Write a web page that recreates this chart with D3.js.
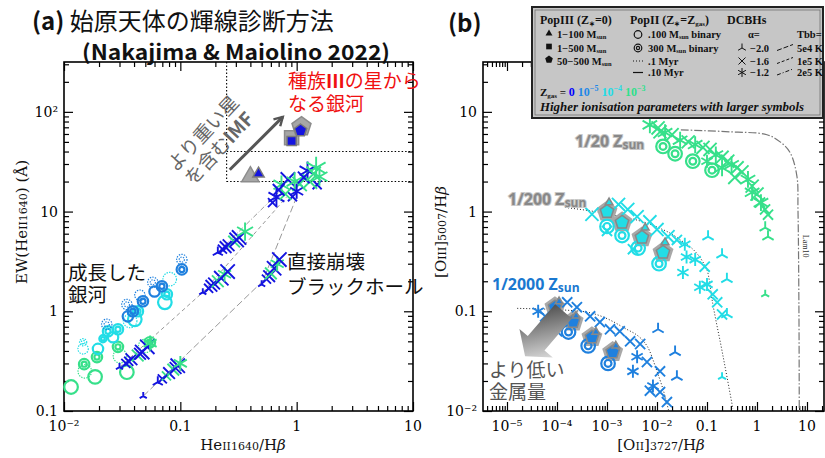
<!DOCTYPE html>
<html>
<head>
<meta charset="utf-8">
<script src="https://cdn.jsdelivr.net/npm/d3@7"></script>
<style>
  body { margin: 0; background: #fff; }
  svg { display: block; }
</style>
</head>
<body>
<svg id="chart" width="825" height="458"></svg>
<script>
// ---------------- data ----------------
// Z keys: "0" -> Zgas=0, "5" -> 1e-5, "4" -> 1e-4, "3" -> 1e-3

// panel (a): HeII1640/Hb vs EW(HeII1640)
const xTicksA = [0.01, 0.1, 1, 10];
const xTickTextA = ["10⁻²", "0.1", "1", "10"];
const yTicksA = [0.1, 1, 10, 100];
const yTickTextA = ["0.1", "1", "10", "10²"];

// PopIII points [x, y, symbol] and their grey halos
const popIIIA = [[0.47, 24, "tri"], [0.905, 51, "sq"], [1.08, 65, "pent"]];
const popIIIHaloA = [[0.40, 22.4, "tri"], [0.905, 55, "sq"], [1.1, 71, "pent"]];

// PopII rings [x, y, Z, type, size]  type: o single, oo double, ":" = 1 Myr (dotted)
const ringsA = [
  [0.0115, 0.174, "3", "o", 3], [0.0185, 0.22, "3", "o", 3], [0.0151, 0.25, "3", "o:", 3],
  [0.0149, 0.295, "3", "oo", 2], [0.0192, 0.347, "3", "oo", 2], [0.0303, 0.355, "3", "o:", 3],
  [0.0347, 0.245, "3", "o", 3], [0.0291, 0.44, "3", "oo", 2], [0.0548, 0.49, "3", "oo", 2],
  [0.050, 0.45, "3", "o:", 3],
  [0.0146, 0.49, "4", "oo:", 1], [0.0146, 0.42, "4", "o:", 2], [0.0196, 0.42, "4", "o", 2],
  [0.0216, 0.53, "4", "oo", 1], [0.0239, 0.63, "4", "oo", 2], [0.0264, 0.55, "4", "o", 2],
  [0.0291, 0.66, "4", "oo", 2], [0.0406, 0.83, "4", "o", 3], [0.0432, 1.0, "4", "oo", 2],
  [0.0736, 1.23, "4", "o", 3], [0.0766, 1.48, "4", "oo", 2], [0.081, 2.1, "4", "o:", 3],
  [0.037, 0.8, "4", "o:", 3],
  [0.0233, 0.74, "5", "oo:", 2], [0.0354, 0.89, "5", "o", 2], [0.0347, 1.17, "5", "oo:", 2],
  [0.0391, 1.0, "5", "oo", 2], [0.0477, 1.26, "5", "oo", 2], [0.0449, 1.45, "5", "o:", 2],
  [0.058, 1.95, "5", "oo:", 2], [0.0694, 1.78, "5", "oo", 2], [0.103, 3.3, "5", "oo:", 2],
  [0.103, 2.63, "5", "oo", 2], [0.06, 1.58, "5", "o", 2]
];

// DCBH models [x, y, Z, symbol, size]
const dcbhA = [
  [0.048, 0.141, "0", "wye", 1], [0.064, 0.195, "0", "wye", 2], [0.070, 0.21, "0", "x", 2],
  [0.076, 0.225, "3", "x", 2], [0.080, 0.24, "0", "x", 3], [0.087, 0.26, "3", "x", 3],
  [0.091, 0.27, "0", "x", 3], [0.095, 0.285, "0", "x", 4], [0.100, 0.30, "3", "star", 3],
  [0.030, 0.275, "0", "wye", 1], [0.034, 0.30, "0", "x", 2], [0.036, 0.315, "0", "x", 2],
  [0.038, 0.33, "0", "x", 3], [0.043, 0.36, "3", "x", 3], [0.045, 0.375, "0", "x", 3],
  [0.047, 0.39, "0", "x", 4], [0.052, 0.44, "0", "x", 4], [0.055, 0.48, "3", "star", 3],
  [0.156, 1.55, "0", "wye", 1], [0.175, 1.7, "0", "x", 2], [0.185, 1.8, "0", "x", 3],
  [0.195, 1.9, "0", "x", 3], [0.21, 2.0, "3", "x", 3], [0.225, 2.15, "0", "x", 4],
  [0.24, 2.35, "3", "star", 3], [0.255, 2.5, "0", "x", 4],
  [0.21, 3.9, "0", "wye", 2], [0.23, 4.2, "0", "x", 2], [0.245, 4.4, "0", "x", 3],
  [0.26, 4.6, "0", "x", 3], [0.29, 5.0, "3", "x", 3], [0.305, 5.2, "0", "x", 4],
  [0.32, 5.5, "0", "x", 4], [0.36, 6.3, "3", "star", 4],
  [0.50, 1.86, "0", "wye", 1], [0.55, 2.1, "0", "x", 2], [0.58, 2.25, "0", "x", 3],
  [0.60, 2.4, "3", "x", 3], [0.64, 2.7, "0", "x", 4], [0.68, 3.0, "3", "star", 3],
  [0.71, 3.3, "0", "x", 4],
  [0.62, 12.3, "0", "x", 2], [0.67, 14, "0", "star", 4], [0.74, 18.6, "3", "star", 4],
  [0.84, 21, "0", "x", 4], [0.92, 14.1, "0", "x", 2], [0.96, 20, "3", "star", 4],
  [1.06, 18.9, "3", "x", 4], [1.24, 25.7, "0", "star", 4], [1.47, 27.5, "3", "star", 5],
  [1.5, 18.6, "0", "x", 2], [1.57, 22.4, "3", "star", 4], [0.8, 15, "3", "x", 3],
  [1.0, 16, "0", "star", 3], [1.3, 20, "3", "x", 4], [0.7, 16.5, "0", "x", 3],
  [1.15, 22, "0", "x", 3], [1.4, 24, "3", "x", 4]
];

// DCBH tracks (grey lines)
const trackDashA = [[0.03, 0.275], [0.156, 1.55], [0.82, 14]];
const trackLongA = [[0.048, 0.141], [0.51, 2.0], [1.0, 14]];
const trackDotDashA = [[0.21, 3.9], [0.71, 15.8]];

// panel (b): [OII]3727/Hb vs [OIII]5007/Hb
const xTicksB = [1e-5, 1e-4, 1e-3, 1e-2, 0.1, 1, 10];
const xTickTextB = ["10⁻⁵", "10⁻⁴", "10⁻³", "10⁻²", "0.1", "1", "10"];
const yTicksB = [0.01, 0.1, 1, 10];
const yTickTextB = ["10⁻²", "0.1", "1", "10"];

const popIIIB = [
  [0.001, 1.0, "4", "pent"], [0.002, 0.78, "4", "pent"], [0.005, 0.55, "4", "pent"], [0.0132, 0.39, "4", "pent"],
  [9.1e-5, 0.11, "5", "pent"], [2.1e-4, 0.079, "5", "pent"], [5e-4, 0.055, "5", "pent"], [1.3e-3, 0.039, "5", "pent"],
  [0.0011, 1.23, "4", "tri"], [0.0058, 0.69, "4", "tri"], [0.0145, 0.49, "4", "tri"],
  [1.1e-4, 0.125, "5", "tri"], [2.4e-4, 0.09, "5", "tri"], [6e-4, 0.062, "5", "tri"], [1.5e-3, 0.045, "5", "tri"]
];

const ringsB = [
  [0.0132, 4.5, "3", "oo", 3], [0.023, 3.8, "3", "oo", 3], [0.052, 3.2, "3", "oo", 3], [0.126, 2.6, "3", "oo", 3],
  [0.001, 0.71, "4", "oo", 3], [0.002, 0.575, "4", "oo", 3], [0.0042, 0.43, "4", "oo", 3], [0.011, 0.30, "4", "oo", 3],
  [8.3e-5, 0.078, "5", "oo", 3], [1.7e-4, 0.062, "5", "oo", 3], [4.2e-4, 0.045, "5", "oo", 3], [1.05e-3, 0.030, "5", "oo", 3]
];

const dcbhB = [
  [0.0072, 7.4, "3", "star", 3], [0.0105, 6.9, "3", "x", 3], [0.0145, 6.2, "3", "star", 3],
  [0.02, 5.9, "3", "x", 3], [0.029, 5.2, "3", "star", 3], [0.042, 5.0, "3", "x", 3],
  [0.058, 4.7, "3", "star", 3], [0.083, 4.4, "3", "x", 3], [0.115, 4.2, "3", "x", 3],
  [0.15, 3.7, "3", "star", 3], [0.2, 3.5, "3", "x", 3], [0.26, 3.2, "3", "x", 3],
  [0.31, 2.95, "3", "star", 3], [0.4, 2.75, "3", "x", 3], [0.5, 2.5, "3", "x", 3],
  [0.66, 2.1, "3", "star", 3], [0.8, 1.8, "3", "x", 3], [1.0, 1.5, "3", "x", 3],
  [1.2, 1.23, "3", "star", 3], [1.45, 1.05, "3", "x", 2], [1.66, 0.93, "3", "x", 2],
  [0.1, 3.2, "3", "star", 2], [0.2, 2.75, "3", "star", 3], [0.36, 2.2, "3", "x", 3],
  [0.8, 1.56, "3", "star", 3], [1.15, 1.23, "3", "x", 2], [0.0115, 6.3, "3", "x", 3],
  [1.46, 0.69, "3", "wye", 2], [1.66, 0.56, "3", "wye", 2], [1.46, 0.148, "3", "wye", 1],
  [5e-4, 0.94, "4", "x", 3], [0.001, 0.64, "4", "x", 2], [0.0017, 1.18, "4", "x", 3],
  [0.0026, 1.05, "4", "x", 3], [0.0033, 0.42, "4", "x", 2], [0.004, 0.89, "4", "x", 3],
  [0.0072, 0.79, "4", "x", 3], [0.01, 0.66, "4", "x", 3], [0.0166, 0.56, "4", "x", 3],
  [0.025, 0.52, "4", "x", 2], [0.036, 0.47, "4", "star", 2], [0.039, 0.35, "4", "star", 2],
  [0.058, 0.33, "4", "star", 2], [0.09, 0.28, "4", "x", 2], [0.033, 0.245, "4", "star", 2],
  [0.072, 0.174, "4", "star", 2], [0.1, 0.186, "4", "star", 2], [0.13, 0.148, "4", "x", 2],
  [0.16, 0.123, "4", "x", 2], [0.2, 0.093, "4", "x", 2],
  [0.105, 0.56, "4", "wye", 2], [0.2, 0.37, "4", "wye", 2], [0.25, 0.21, "4", "wye", 2],
  [0.25, 0.093, "4", "wye", 2], [0.2, 0.022, "4", "wye", 1],
  [4.2e-5, 0.1, "5", "star", 2], [5.8e-5, 0.089, "5", "x", 2], [1e-4, 0.063, "5", "x", 2],
  [1.6e-4, 0.123, "5", "x", 2], [2.5e-4, 0.11, "5", "x", 2], [4.6e-4, 0.089, "5", "x", 2],
  [7.2e-4, 0.078, "5", "x", 2], [1.15e-3, 0.066, "5", "x", 2], [1.8e-3, 0.063, "5", "x", 2],
  [2.9e-3, 0.05, "5", "x", 2], [4.6e-3, 0.047, "5", "x", 2], [4e-3, 0.035, "5", "star", 2],
  [6.3e-3, 0.031, "5", "x", 2], [0.0115, 0.025, "5", "x", 2], [3.3e-3, 0.025, "5", "star", 2],
  [8.3e-3, 0.0178, "5", "star", 2], [7.2e-3, 0.016, "5", "x", 2], [0.0115, 0.0155, "5", "x", 2],
  [0.0158, 0.0123, "5", "x", 2],
  [0.0105, 0.066, "5", "wye", 2], [0.023, 0.039, "5", "wye", 2], [0.025, 0.022, "5", "wye", 2]
];

// model boundary curves in panel (b)
const curveZ200 = [[1.45e-4, 1.1], [0.001, 0.95], [0.01, 0.7], [0.025, 0.55], [0.1, 0.26], [0.13, 0.12], [0.2, 0.04], [0.33, 0.0105]];
const curveZ2000 = [[1.6e-5, 0.107], [3e-4, 0.1], [2e-3, 0.07], [6.3e-3, 0.045], [0.01, 0.025], [0.0145, 0.014], [0.017, 0.0102]];
const curveLam10 = [[0.03, 6.6], [0.3, 6.3], [1.58, 5.9], [2.9, 5.0], [4.6, 3.9], [6.3, 2.24], [6.6, 1.05], [6.9, 0.1], [7.0, 0.01]];

// ---------------- drawing ----------------
const zColor = { "0": "#1414e0", "5": "#1f80de", "4": "#22dde6", "3": "#36e08a" };
const JP = '"Noto Sans CJK JP","Noto Sans",sans-serif';
const SERIF = '"DejaVu Serif",serif';
const LSERIF = '"Liberation Serif",serif';

const svg = d3.select("#chart");

const xA = d3.scaleLog().domain([0.01, 10]).range([64, 413]);
const yA = d3.scaleLog().domain([0.1, Math.pow(10, 2.5)]).range([411, 62]);
const xB = d3.scaleLog().domain([Math.pow(10, -5.48), Math.pow(10, 1.34)]).range([483, 824]);
const yB = d3.scaleLog().domain([0.01, Math.pow(10, 1.5)]).range([411, 62]);

function logVals(sc) {
  const [a, b] = sc.domain(), out = [];
  for (let e = Math.floor(Math.log10(a)); e <= Math.ceil(Math.log10(b)); e++)
    for (let m = 1; m < 10; m++) {
      const v = m * Math.pow(10, e);
      if (v >= a * 0.999 && v <= b * 1.001) out.push(v);
    }
  return out;
}
const isMajor = v => Math.abs(Math.log10(v) - Math.round(Math.log10(v))) < 1e-6;

function drawFrame(x, y, xt, xtt, yt, ytt) {
  const g = svg.append("g");
  const [xl, xr] = x.range(), [yb, ytop] = y.range();
  const sides = [
    [d3.axisBottom, `translate(0,${yb})`, x], [d3.axisTop, `translate(0,${ytop})`, x],
    [d3.axisLeft, `translate(${xl},0)`, y], [d3.axisRight, `translate(${xr},0)`, y]
  ];
  sides.forEach(([f, tr, sc]) => {
    const v = logVals(sc);
    [[v.filter(isMajor), -9], [v.filter(d => !isMajor(d)), -5]].forEach(([vals, len]) => {
      g.append("g").attr("transform", tr)
        .call(f(sc).tickValues(vals).tickSize(len).tickSizeOuter(0).tickFormat(""))
        .call(s => s.select(".domain").remove())
        .selectAll("line").attr("stroke", "#000").attr("stroke-width", 1.2);
    });
  });
  g.append("rect").attr("x", xl).attr("y", ytop).attr("width", xr - xl).attr("height", yb - ytop)
    .attr("fill", "none").attr("stroke", "#000").attr("stroke-width", 1.6);
  g.selectAll(".xl").data(xt).enter().append("text")
    .attr("x", d => x(d)).attr("y", yb + 20).attr("text-anchor", "middle")
    .attr("font-family", SERIF).attr("font-size", 14).text((d, i) => xtt[i]);
  g.selectAll(".yl").data(yt).enter().append("text")
    .attr("x", xl - 6).attr("y", d => y(d) + 5).attr("text-anchor", "end")
    .attr("font-family", SERIF).attr("font-size", 14).text((d, i) => ytt[i]);
}

function markPath(sym, s) {
  if (sym === "wye") return `M0,0V${-s}M0,0L${-0.87 * s},${0.5 * s}M0,0L${0.87 * s},${0.5 * s}`;
  if (sym === "x") { const a = s * 0.78; return `M${-a},${-a}L${a},${a}M${-a},${a}L${a},${-a}`; }
  let p = "";
  for (let i = 0; i < 3; i++) {
    const t = Math.PI * i / 3, dx = s * Math.sin(t), dy = s * Math.cos(t);
    p += `M${-dx},${-dy}L${dx},${dy}`;
  }
  return p;
}
function shapePath(sym, r) {
  let n = 3, rot = -Math.PI / 2;
  if (sym === "sq") { n = 4; rot = Math.PI / 4; }
  if (sym === "pent") { n = 5; rot = -Math.PI / 2; }
  const pts = d3.range(n).map(i => [r * Math.cos(rot + 2 * Math.PI * i / n), r * Math.sin(rot + 2 * Math.PI * i / n)]);
  return "M" + pts.join("L") + "Z";
}

function drawRings(data, x, y) {
  const g = svg.append("g");
  const radius = [0, 3.6, 5.2, 6.8];
  data.forEach(d => {
    const [vx, vy, z, type, s] = d;
    const dotted = type.includes(":"), dbl = type.startsWith("oo");
    const r = radius[s];
    const c = g.append("g").attr("transform", `translate(${x(vx)},${y(vy)})`)
      .attr("fill", "none").attr("stroke", zColor[z])
      .attr("stroke-width", dotted ? 1.2 : 2.2)
      .attr("stroke-dasharray", dotted ? "1.4,1.2" : null);
    c.append("circle").attr("r", r);
    if (dbl) c.append("circle").attr("r", r * 0.5);
  });
}

function drawDcbh(data, x, y, k) {
  svg.append("g").selectAll("path").data(data).enter().append("path")
    .attr("transform", d => `translate(${x(d[0])},${y(d[1])})`)
    .attr("d", d => markPath(d[3], k * (2.4 + 1.7 * d[4])))
    .attr("fill", "none").attr("stroke", d => zColor[d[2]]).attr("stroke-width", 1.9);
}

// two-line Japanese captions kept in one text element
function caption(lines, x, y, gap, size, col) {
  const t = svg.append("text").attr("x", x).attr("y", y).attr("font-family", JP)
    .attr("font-size", size).attr("fill", col);
  lines.forEach((l, i) => t.append("tspan").attr("x", x).attr("dy", i ? gap : 0).text(l));
  return t;
}

// ---------- panel (a) ----------
drawFrame(xA, yA, xTicksA, xTickTextA, yTicksA, yTickTextA);

// dotted selection box
const box = svg.append("g").attr("stroke", "#000").attr("stroke-width", 1.1)
  .attr("stroke-dasharray", "1.5,2").attr("fill", "none");
box.append("line").attr("x1", xA(0.25)).attr("x2", xA(0.25)).attr("y1", yA.range()[1]).attr("y2", yA(20));
box.append("line").attr("x1", xA(0.25)).attr("x2", xA(10)).attr("y1", yA(20)).attr("y2", yA(20));
box.append("line").attr("x1", xA(0.25)).attr("x2", xA(10)).attr("y1", yA(40)).attr("y2", yA(40));

const lineA = d3.line().x(d => xA(d[0])).y(d => yA(d[1]));
[[trackDashA, "4,3"], [trackLongA, "7,3"], [trackDotDashA, "5,2,1,2"]].forEach(([t, dash]) => {
  svg.append("path").attr("d", lineA(t)).attr("fill", "none").attr("stroke", "#999")
    .attr("stroke-width", 1).attr("stroke-dasharray", dash);
});

drawRings(ringsA, xA, yA);
drawDcbh(dcbhA, xA, yA, 1);

svg.append("g").selectAll("path").data(popIIIHaloA).enter().append("path")
  .attr("transform", d => `translate(${xA(d[0])},${yA(d[1])})`)
  .attr("d", d => shapePath(d[2], 10))
  .attr("fill", "#a6a6a6").attr("stroke", "#8c8c8c").attr("stroke-width", 1.5);
svg.append("g").selectAll("path").data(popIIIA).enter().append("path")
  .attr("transform", d => `translate(${xA(d[0])},${yA(d[1])})`)
  .attr("d", d => shapePath(d[2], 6.5))
  .attr("fill", zColor["0"]).attr("stroke", "#7a7a7a").attr("stroke-width", 1.5);

// IMF arrow
const imfArrow = [[0.266, 26.3], [0.76, 89]];
svg.append("defs").html(`
  <marker id="chev" viewBox="0 0 10 10" refX="8" refY="5" markerWidth="4" markerHeight="4" orient="auto">
    <path d="M1,1L8,5L1,9" fill="none" stroke="#555" stroke-width="2"/></marker>
  <linearGradient id="grad" x1="1" y1="0" x2="0" y2="1">
    <stop offset="0" stop-color="#f2f2f2"/><stop offset="1" stop-color="#3a3a3a"/></linearGradient>`);
svg.append("line").attr("x1", xA(imfArrow[0][0])).attr("y1", yA(imfArrow[0][1]))
  .attr("x2", xA(imfArrow[1][0])).attr("y2", yA(imfArrow[1][1]))
  .attr("stroke", "#555").attr("stroke-width", 3).attr("marker-end", "url(#chev)");

const imfText = svg.append("text").attr("transform", "translate(208,138) rotate(-47)")
  .attr("text-anchor", "middle").attr("font-family", JP).attr("font-size", 19).attr("fill", "#666");
imfText.append("tspan").attr("x", 0).attr("dy", 0).text("より重い星");
imfText.append("tspan").attr("x", 0).attr("dy", 22).text("を含む")
  .append("tspan").attr("font-weight", "bold").text("IMF");

// texts (a)
const red = svg.append("text").attr("font-family", JP).attr("font-size", 19).attr("fill", "#f01010");
red.append("tspan").attr("x", 288).attr("y", 88).text("種族");
red.append("tspan").attr("font-weight", "bold").text("III");
red.append("tspan").text("の星から");
red.append("tspan").attr("x", 288).attr("y", 111).text("なる銀河");

caption(["成長した", "銀河"], 68, 280, 22, 19.5, "#111");
caption(["直接崩壊", "ブラックホール"], 287, 269, 25, 19.5, "#111");

// titles
const t1 = svg.append("text").attr("x", 32).attr("y", 30).attr("font-family", JP).attr("font-size", 24).attr("fill", "#111");
t1.append("tspan").attr("font-weight", "bold").text("(a) ");
t1.append("tspan").text("始原天体の輝線診断方法");
svg.append("text").attr("x", 82).attr("y", 60).attr("font-family", JP).attr("font-size", 21)
  .attr("font-weight", "bold").attr("fill", "#111").attr("textLength", 308)
  .attr("lengthAdjust", "spacingAndGlyphs").text("(Nakajima & Maiolino 2022)");
svg.append("text").attr("x", 448).attr("y", 32).attr("font-family", JP).attr("font-size", 24)
  .attr("font-weight", "bold").attr("fill", "#111").text("(b)");

// axis titles (a)
const xtA = svg.append("text").attr("x", 243).attr("y", 450).attr("text-anchor", "middle")
  .attr("font-family", SERIF).attr("font-size", 15).attr("fill", "#111");
xtA.append("tspan").text("He");
xtA.append("tspan").attr("font-size", 11).text("II1640");
xtA.append("tspan").text("/H");
xtA.append("tspan").attr("font-style", "italic").text("β");

const ytA = svg.append("text").attr("transform", "translate(27,222) rotate(-90)").attr("text-anchor", "middle")
  .attr("font-family", SERIF).attr("font-size", 15).attr("fill", "#111");
ytA.append("tspan").text("EW(He");
ytA.append("tspan").attr("font-size", 11).text("II1640");
ytA.append("tspan").text(") (Å)");

// ---------- panel (b) ----------
drawFrame(xB, yB, xTicksB, xTickTextB, yTicksB, yTickTextB);

const lineB = d3.line().x(d => xB(d[0])).y(d => yB(d[1])).curve(d3.curveMonotoneX);
svg.append("path").attr("d", lineB(curveZ200)).attr("fill", "none").attr("stroke", "#222")
  .attr("stroke-width", 1).attr("stroke-dasharray", "1,2");
svg.append("path").attr("d", lineB(curveZ2000)).attr("fill", "none").attr("stroke", "#222")
  .attr("stroke-width", 1).attr("stroke-dasharray", "1,2");
svg.append("path").attr("d", d3.line().x(d => xB(d[0])).y(d => yB(d[1])).curve(d3.curveCatmullRom)(curveLam10))
  .attr("fill", "none").attr("stroke", "#777").attr("stroke-width", 1.2).attr("stroke-dasharray", "8,2,1.5,2");
svg.append("text").attr("transform", `translate(${xB(7.0) + 4},${yB(0.45)}) rotate(90)`)
  .attr("text-anchor", "middle").attr("font-family", LSERIF).attr("font-size", 8).attr("fill", "#333").text("Lam10");

// grey halos behind PopIII pentagons
svg.append("g").selectAll("path").data(popIIIB.filter(d => d[3] === "pent")).enter().append("path")
  .attr("transform", d => `translate(${xB(d[0])},${yB(d[1])})`)
  .attr("d", shapePath("pent", 11)).attr("fill", "#a8a8a8");

drawRings(ringsB, xB, yB);
drawDcbh(dcbhB, xB, yB, 1.12);

svg.append("g").selectAll("path").data(popIIIB).enter().append("path")
  .attr("transform", d => `translate(${xB(d[0])},${yB(d[1])})`)
  .attr("d", d => shapePath(d[3], d[3] === "pent" ? 7 : 4.5))
  .attr("fill", d => zColor[d[2]]).attr("stroke", "#888").attr("stroke-width", 1.5);

// gradient arrow "lower metallicity"
const tip = [xB(2.3e-5), yB(0.0355)], tail = [xB(1.35e-4), yB(0.1)];
const ang = Math.atan2(tip[1] - tail[1], tip[0] - tail[0]) * 180 / Math.PI;
const len = Math.hypot(tip[0] - tail[0], tip[1] - tail[1]);
svg.append("path").attr("transform", `translate(${tail[0]},${tail[1]}) rotate(${ang})`)
  .attr("d", `M0,-11L${len - 17},-11L${len - 17},-22L${len},0L${len - 17},22L${len - 17},11L0,11Z`)
  .attr("fill", "url(#grad)");

// metallicity labels
function zLabel(txt, xpos, ypos, col) {
  const t = svg.append("text").attr("x", xpos).attr("y", ypos).attr("font-family", '"Open Sans","Noto Sans",sans-serif')
    .attr("font-size", 16).attr("font-weight", "bold").attr("fill", col)
    .attr("stroke", col === "#888" ? "#c8c8c8" : "none").attr("stroke-width", 2).attr("paint-order", "stroke");
  t.append("tspan").text(txt + " Z");
  t.append("tspan").attr("font-size", 12).attr("dy", 2).text("sun");
}
zLabel("1/20", 575, 147, "#888");
zLabel("1/200", 508, 205, "#888");
zLabel("1/2000", 492, 290, "#1a78d0");

caption(["より低い", "金属量"], 489, 377, 22, 19, "#555");

const xtB = svg.append("text").attr("x", 661).attr("y", 450).attr("text-anchor", "middle")
  .attr("font-family", SERIF).attr("font-size", 15).attr("fill", "#111");
xtB.append("tspan").text("[O");
xtB.append("tspan").attr("font-size", 11).text("II");
xtB.append("tspan").text("]");
xtB.append("tspan").attr("font-size", 11).text("3727");
xtB.append("tspan").text("/H");
xtB.append("tspan").attr("font-style", "italic").text("β");

const ytB = svg.append("text").attr("transform", "translate(446,232) rotate(-90)").attr("text-anchor", "middle")
  .attr("font-family", SERIF).attr("font-size", 15).attr("fill", "#111");
ytB.append("tspan").text("[O");
ytB.append("tspan").attr("font-size", 11).text("III");
ytB.append("tspan").text("]");
ytB.append("tspan").attr("font-size", 11).text("5007");
ytB.append("tspan").text("/H");
ytB.append("tspan").attr("font-style", "italic").text("β");

// ---------- legend ----------
const lg = svg.append("g").attr("font-family", LSERIF).attr("font-weight", "bold").attr("fill", "#111");
lg.append("rect").attr("x", 532).attr("y", 7).attr("width", 291).attr("height", 111)
  .attr("fill", "#c6c6c6").attr("stroke", "#222").attr("stroke-width", 2);
lg.append("rect").attr("x", 535).attr("y", 10).attr("width", 285).attr("height", 105)
  .attr("fill", "none").attr("stroke", "#666").attr("stroke-width", 0.7);

function ltext(x, y, parts, size) {
  const t = lg.append("text").attr("x", x).attr("y", y).attr("font-size", size || 10.5);
  parts.forEach(p => {
    const s = t.append("tspan").text(p[0]);
    if (p[1]) s.attr("font-size", p[1]);
    if (p[2]) s.attr("dy", p[2]);
    if (p[3]) s.attr("fill", p[3]);
  });
  return t;
}
ltext(540, 24, [["PopIII (Z"], ["∗", 7, 2], ["=0)", null, -2]], 12);
ltext(630, 24, [["PopII (Z"], ["∗", 7, 2], ["=Z", null, -2], ["gas", 7, 2], [")", null, -2]], 12);
ltext(727, 24, [["DCBHs"]], 12);

const symG = lg.append("g");
[["tri", 37], ["sq", 50], ["pent", 63]].forEach(([s, yy]) => {
  symG.append("path").attr("transform", `translate(549,${yy - 3.5})`).attr("d", shapePath(s, 4)).attr("fill", "#111");
});
ltext(557, 38, [["1−100 M"], ["sun", 6.5, 1]]);
ltext(557, 51.5, [["1−500 M"], ["sun", 6.5, 1]]);
ltext(557, 64.5, [["50−500 M"], ["sun", 6.5, 1]]);

symG.append("circle").attr("cx", 638).attr("cy", 34.5).attr("r", 3.8).attr("fill", "none").attr("stroke", "#111").attr("stroke-width", 1.2);
symG.append("circle").attr("cx", 638).attr("cy", 48).attr("r", 3.8).attr("fill", "none").attr("stroke", "#111").attr("stroke-width", 1.2);
symG.append("circle").attr("cx", 638).attr("cy", 48).attr("r", 1.6).attr("fill", "none").attr("stroke", "#111").attr("stroke-width", 1.2);
symG.append("line").attr("x1", 633).attr("x2", 643).attr("y1", 61).attr("y2", 61).attr("stroke", "#111").attr("stroke-dasharray", "1,2");
symG.append("line").attr("x1", 633).attr("x2", 643).attr("y1", 72.5).attr("y2", 72.5).attr("stroke", "#111").attr("stroke-width", 1.2);
ltext(648, 38, [[".100 M"], ["sun", 6.5, 1], [" binary", null, -1]]);
ltext(648, 51.5, [["300 M"], ["sun", 6.5, 1], [" binary", null, -1]]);
ltext(648, 64.5, [[".1 Myr"]]);
ltext(648, 76, [[".10 Myr"]]);

ltext(748, 38, [["α="]]);
ltext(797, 38, [["Tbb="]]);
[["wye", 48], ["x", 61], ["star", 72.5]].forEach(([s, yy]) => {
  symG.append("path").attr("transform", `translate(742,${yy})`).attr("d", markPath(s, 4.5))
    .attr("fill", "none").attr("stroke", "#111").attr("stroke-width", 1);
});
ltext(750, 51.5, [["−2.0"]]);
ltext(750, 64.5, [["−1.6"]]);
ltext(750, 76, [["−1.2"]]);
[[51.5, "5,2"], [64.5, "3,2"], [76, "4,2,1,2"]].forEach(([yy, dash]) => {
  symG.append("line").attr("x1", 777).attr("x2", 793).attr("y1", yy - 1).attr("y2", yy - 7)
    .attr("stroke", "#111").attr("stroke-width", 1).attr("stroke-dasharray", dash);
});
ltext(797, 51.5, [["5e4 K"]]);
ltext(797, 64.5, [["1e5 K"]]);
ltext(797, 76, [["2e5 K"]]);

ltext(540, 96, [["Z"], ["gas", 7, 2], [" = ", null, -2], ["0", 12, 0, "#0000ff"],
  ["  10", 12, 0, "#1e88e8"], ["−5", 8, -5, "#1e88e8"],
  ["  10", 12, 5, "#22dde6"], ["−4", 8, -5, "#22dde6"],
  ["  10", 12, 5, "#2fe08c"], ["−3", 8, -5, "#2fe08c"]], 11);
ltext(540, 111, [["Higher ionisation parameters with larger symbols"]], 11.5)
  .attr("font-style", "italic").attr("textLength", 264).attr("lengthAdjust", "spacingAndGlyphs");
</script>
</body>
</html>
